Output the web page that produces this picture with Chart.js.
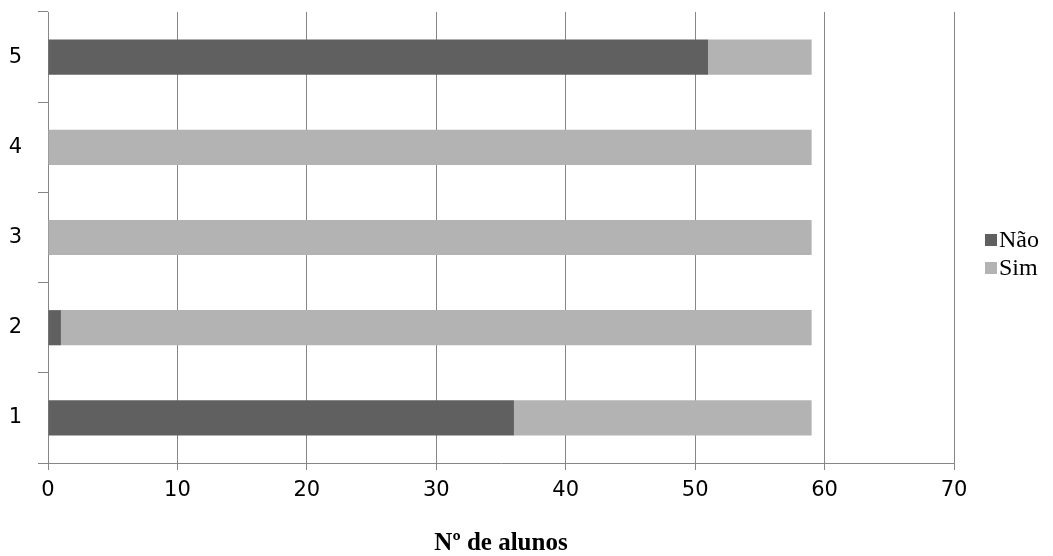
<!DOCTYPE html>
<html>
<head>
<meta charset="utf-8">
<script src="https://cdn.jsdelivr.net/npm/chart.js@4"></script>
<style>
  html, body { margin: 0; padding: 0; background: #ffffff; }
  #wrap { width: 1053px; height: 556px; }
</style>
</head>
<body>
<div id="wrap"><canvas id="c" width="1053" height="556"></canvas></div>
<script>
const categories = ['1', '2', '3', '4', '5'];
const naoValues = [36, 1, 0, 0, 51];
const simValues = [23, 58, 59, 59, 8];
const seriesNames = ['Não', 'Sim'];
const seriesColors = ['#606060', '#b3b3b3'];
const xTitle = 'Nº de alunos';

const gridColor = '#868686';

const legendPlugin = {
  id: 'sideLegend',
  afterDraw(chart) {
    const ctx = chart.ctx;
    ctx.save();
    ctx.font = '24px "Liberation Serif", serif';
    ctx.textBaseline = 'middle';
    ctx.textAlign = 'left';
    const ys = [240, 268];
    chart.data.datasets.forEach((ds, i) => {
      ctx.fillStyle = ds.backgroundColor;
      ctx.fillRect(985, ys[i] - 6, 12, 12);
      ctx.fillStyle = '#000000';
      ctx.fillText(ds.label, 999, ys[i] + 1);
    });
    ctx.restore();
  }
};

new Chart(document.getElementById('c'), {
  type: 'bar',
  data: {
    labels: categories,
    datasets: [
      { label: seriesNames[0], data: naoValues, backgroundColor: seriesColors[0], borderWidth: 0,
        categoryPercentage: 1, barPercentage: 0.39 },
      { label: seriesNames[1], data: simValues, backgroundColor: seriesColors[1], borderWidth: 0,
        categoryPercentage: 1, barPercentage: 0.39 }
    ]
  },
  options: {
    indexAxis: 'y',
    responsive: false,
    animation: false,
    layout: { padding: { left: 0, right: 99, top: 12, bottom: 0 } },
    plugins: {
      legend: { display: false },
      tooltip: { enabled: false }
    },
    scales: {
      x: {
        stacked: true,
        min: 0,
        max: 70,
        ticks: {
          stepSize: 10,
          color: '#000000',
          padding: 8,
          font: { family: '"DejaVu Sans", sans-serif', size: 21 }
        },
        grid: {
          color: gridColor,
          lineWidth: 1,
          drawTicks: true,
          tickLength: 7,
          tickColor: gridColor
        },
        border: { display: true, color: gridColor, width: 1 },
        title: {
          display: true,
          text: xTitle,
          color: '#000000',
          padding: { top: 0, bottom: 0 },
          font: { family: '"Liberation Serif", serif', size: 25, weight: 'bold', lineHeight: 1.0 }
        },
        afterFit(scale) { scale.height = 93; scale.paddingLeft = 0; scale.paddingRight = 0; }
      },
      y: {
        stacked: true,
        reverse: true,
        ticks: {
          color: '#000000',
          padding: 16,
          font: { family: '"DejaVu Sans", sans-serif', size: 21 }
        },
        grid: {
          offset: true,
          drawOnChartArea: false,
          drawTicks: true,
          tickLength: 10,
          color: gridColor,
          tickColor: gridColor
        },
        border: { display: true, color: gridColor, width: 1 },
        afterFit(scale) { scale.width = 48; scale.paddingTop = 0; scale.paddingBottom = 0; }
      }
    }
  },
  plugins: [legendPlugin]
});
</script>
</body>
</html>
